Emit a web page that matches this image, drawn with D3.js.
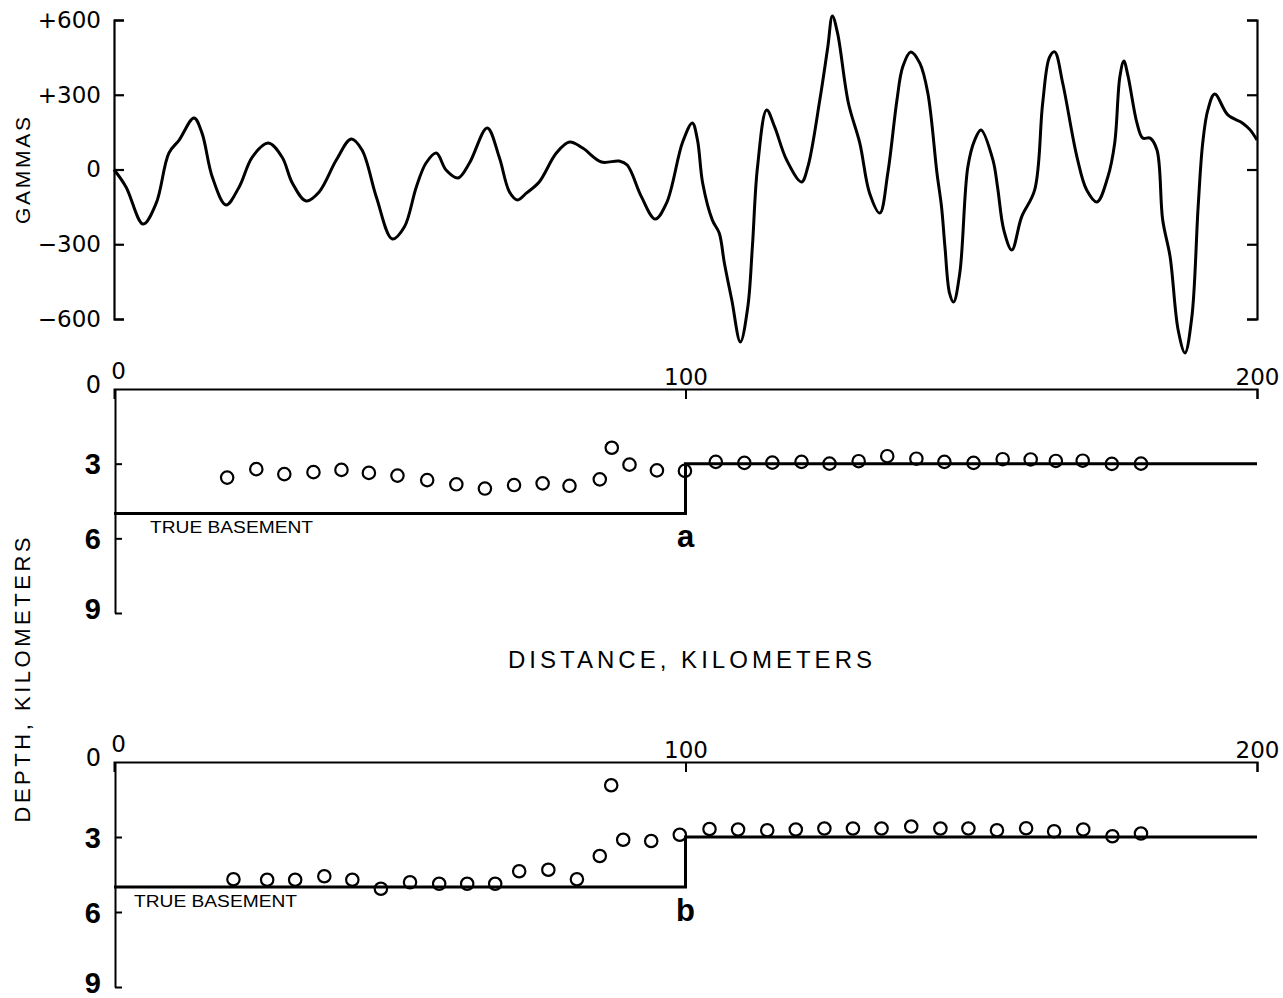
<!DOCTYPE html>
<html>
<head>
<meta charset="utf-8">
<script src="https://cdn.jsdelivr.net/npm/d3@7"></script>
<style>
  body { margin: 0; background: #fff; }
  svg { display: block; font-family: "Liberation Sans", "DejaVu Sans", sans-serif; }
</style>
</head>
<body>
<svg id="chart" width="1283" height="998"></svg>
<script>
// magnetic profile (km, gammas)
var curveKm = [0, 2.1, 5.1, 7.4, 9.6, 11.4, 14.0, 15.4, 17.2, 19.6,
  21.9, 24.2, 27.0, 29.4, 31.2, 33.6, 35.9, 38.9, 41.5, 43.4,
  45.9, 48.7, 50.8, 52.9, 54.6, 56.4, 58.1, 60.2, 62.2, 65.3,
  67.4, 69.2, 70.6, 72.2, 74.4, 77.4, 79.7, 82.0, 85.3, 88.4,
  89.8, 92.3, 94.7, 96.7, 99.5, 101.2, 102.1, 103.0, 104.7, 105.9,
  106.8, 108.1, 109.6, 110.9, 111.7, 112.6, 114.2, 115.6, 117.7, 120.3,
  121.4, 123.5, 124.9, 125.7, 126.6, 128.5, 130.5, 132.2, 134.0, 135.4,
  137.0, 138.0, 139.4, 141.0, 142.4, 144.0, 144.8, 145.4, 146.2, 146.9,
  148.0, 149.4, 150.6, 151.7, 153.8, 154.6, 155.7, 157.1, 158.8, 161.1,
  162.5, 163.7, 164.6, 166.0, 168.5, 170.2, 172.0, 173.9, 175.1, 176.0,
  176.7, 177.4, 179.0, 180.0, 181.3, 182.5, 183.5, 184.8, 186.2, 187.4,
  188.6, 189.7, 190.5, 191.4, 192.6, 194.9, 197.5, 198.8, 200];
var curveGammas = [0, -70, -219, -134, 66, 118, 207, 146, -30, -142,
  -70, 50, 106, 50, -54, -126, -90, 38, 122, 78,
  -110, -279, -231, -70, 26, 66, -2, -34, 26, 167,
  50, -90, -122, -94, -50, 66, 110, 86, 30, 34,
  18, -110, -199, -134, 110, 187, 118, -54, -203, -255,
  -375, -524, -692, -552, -311, 10, 239, 171, 38, -50,
  10, 279, 492, 616, 548, 267, 106, -94, -175, -14,
  279, 411, 472, 427, 307, -14, -150, -311, -496, -532,
  -415, 10, 118, 159, 38, -70, -243, -323, -191, -82,
  267, 451, 472, 347, 50, -82, -130, -30, 106, 371,
  435, 379, 186, 126, 126, 78, -203, -351, -644, -736,
  -592, -150, 106, 239, 303, 219, 186, 159, 118];

// computed depths, case a
var aKm = [19.8, 24.9, 29.8, 34.9, 39.8, 44.6, 49.6, 54.8, 59.9, 64.9, 70, 75, 79.7, 85, 87.1, 90.2, 95, 99.9,
  105.3, 110.3, 115.2, 120.3, 125.2, 130.3, 135.3, 140.4, 145.3, 150.4, 155.5, 160.4, 164.8, 169.5, 174.6, 179.7];
var aDepth = [3.56, 3.22, 3.42, 3.34, 3.25, 3.37, 3.48, 3.66, 3.83, 4.0, 3.86, 3.79, 3.89, 3.63, 2.36, 3.04, 3.27, 3.29,
  2.93, 2.97, 2.96, 2.93, 3.0, 2.9, 2.7, 2.8, 2.93, 2.97, 2.82, 2.83, 2.89, 2.88, 3.01, 3.0];

// computed depths, case b
var bKm = [20.9, 26.8, 31.7, 36.8, 41.7, 46.7, 51.8, 56.9, 61.8, 66.7, 70.9, 76.0, 81.0, 85.0, 87.0, 89.1, 94.0, 99.0,
  104.2, 109.2, 114.3, 119.3, 124.3, 129.3, 134.3, 139.5, 144.6, 149.5, 154.5, 159.6, 164.5, 169.6, 174.7, 179.7];
var bDepth = [4.69, 4.71, 4.71, 4.57, 4.71, 5.07, 4.81, 4.87, 4.87, 4.87, 4.37, 4.31, 4.69, 3.76, 0.93, 3.11, 3.16, 2.91,
  2.68, 2.70, 2.73, 2.70, 2.66, 2.66, 2.66, 2.58, 2.66, 2.66, 2.73, 2.65, 2.77, 2.70, 2.97, 2.86];

// true basement step
var basementKm = [0, 100, 100, 200];
var basementDepth = [5, 5, 3, 3];

var gammaTicks = [600, 300, 0, -300, -600];
var gammaLabels = ["+600", "+300", "0", "\u2212300", "\u2212600"];
var depthTicks = [0, 3, 6, 9];
var distTicks = [0, 100, 200];

var svg = d3.select("#chart");

var x = d3.scaleLinear().domain([0, 200]).range([114, 1257]);
var yG = d3.scaleLinear().domain([-600, 600]).range([319, 20]);
var yA = d3.scaleLinear().domain([0, 9]).range([389, 613]);
var yB = d3.scaleLinear().domain([0, 9]).range([762, 987]);

function styleAxis(g, w) {
  g.attr("font-family", null).attr("font-size", null);
  g.selectAll(".domain, .tick line").attr("stroke", "#000").attr("stroke-width", w);
  g.selectAll("text").attr("fill", "#000");
}

//////////// TOP: MAGNETIC ANOMALY ////////////
var gL = svg.append("g")
    .attr("transform", "translate(" + x(0) + ",0)")
    .call(d3.axisLeft(yG).tickValues(gammaTicks)
      .tickFormat(function(d, i) { return gammaLabels[i]; })
      .tickSize(-10).tickPadding(13));
styleAxis(gL, 2.2);
gL.selectAll("text").attr("font-size", 23).attr("font-family", "DejaVu Sans");

var gR = svg.append("g")
    .attr("transform", "translate(" + x(200) + ",0)")
    .call(d3.axisRight(yG).tickValues(gammaTicks).tickFormat("").tickSize(-10));
styleAxis(gR, 2.2);

svg.append("text")
    .attr("transform", "translate(30," + (yG(0) + 1) + ") rotate(-90)")
    .attr("text-anchor", "middle")
    .attr("font-size", 21)
    .attr("textLength", 107)
    .attr("lengthAdjust", "spacing")
    .text("GAMMAS");

var curve = curveKm.map(function(d, i) { return [d, curveGammas[i]]; });
svg.append("path")
    .datum(curve)
    .attr("fill", "none")
    .attr("stroke", "#000")
    .attr("stroke-width", 3)
    .attr("stroke-linejoin", "round")
    .attr("d", d3.line()
      .x(function(d) { return x(d[0]); })
      .y(function(d) { return yG(d[1]); })
      .curve(d3.curveCatmullRom.alpha(0.5)));

//////////// DEPTH PANELS ////////////
function depthPanel(y, km, depth, letter, tbX) {
  var g = svg.append("g");

  var top = g.append("g")
      .attr("transform", "translate(0," + y(0) + ")")
      .call(d3.axisTop(x).tickValues(distTicks).tickSize(-10).tickSizeOuter(-10).tickPadding(4));
  styleAxis(top, 2);
  top.selectAll("text").attr("font-size", 23).attr("font-family", "DejaVu Sans");
  top.selectAll(".tick").filter(function(d) { return d === 0; }).select("line").remove();
  top.selectAll(".tick").filter(function(d) { return d === 0; }).select("text")
      .attr("dx", 4).attr("dy", -6);

  var left = g.append("g")
      .attr("transform", "translate(" + (x(0) + 1) + ",0)")
      .call(d3.axisLeft(y).tickValues(depthTicks).tickSize(-7).tickSizeOuter(0).tickPadding(14));
  styleAxis(left, 2);
  left.selectAll("text")
      .attr("font-size", function(d) { return d === 0 ? 24 : 29; })
      .attr("font-weight", function(d) { return d === 0 ? "normal" : "bold"; })
      .attr("font-family", function(d) { return d === 0 ? "DejaVu Sans" : "Liberation Sans"; })
      .attr("dy", function(d) { return d === 0 ? "0.15em" : (d === 9 ? "0.2em" : "0.35em"); });
  left.selectAll(".tick").filter(function(d) { return d === 0; }).select("line").remove();

  var step = basementKm.map(function(d, i) { return [d, basementDepth[i]]; });
  g.append("path")
      .datum(step)
      .attr("fill", "none")
      .attr("stroke", "#000")
      .attr("stroke-width", 3)
      .attr("d", d3.line()
        .x(function(d) { return x(d[0]); })
        .y(function(d) { return y(d[1]); }));

  g.append("text")
      .attr("x", tbX)
      .attr("y", y(5) + 20)
      .attr("font-size", 16)
      .attr("font-family", "Liberation Sans Narrow, Liberation Sans")
      .attr("textLength", 163)
      .attr("lengthAdjust", "spacingAndGlyphs")
      .text("TRUE BASEMENT");

  g.append("text")
      .attr("x", x(100))
      .attr("y", y(6) + 9)
      .attr("text-anchor", "middle")
      .attr("font-size", 31)
      .attr("font-weight", "bold")
      .text(letter);

  g.append("g").selectAll("circle")
    .data(km.map(function(d, i) { return [d, depth[i]]; }))
    .join("circle")
      .attr("cx", function(d) { return x(d[0]); })
      .attr("cy", function(d) { return y(d[1]); })
      .attr("r", 6.2)
      .attr("fill", "none")
      .attr("stroke", "#000")
      .attr("stroke-width", 2.2);
}

depthPanel(yA, aKm, aDepth, "a", 150);
depthPanel(yB, bKm, bDepth, "b", 134);

svg.append("text")
    .attr("x", 508)
    .attr("y", 668)
    .attr("font-size", 24)
    .attr("textLength", 364)
    .attr("lengthAdjust", "spacing")
    .text("DISTANCE, KILOMETERS");

svg.append("text")
    .attr("transform", "translate(30,680) rotate(-90)")
    .attr("text-anchor", "middle")
    .attr("font-size", 22)
    .attr("textLength", 285)
    .attr("lengthAdjust", "spacing")
    .text("DEPTH, KILOMETERS");
</script>
</body>
</html>
